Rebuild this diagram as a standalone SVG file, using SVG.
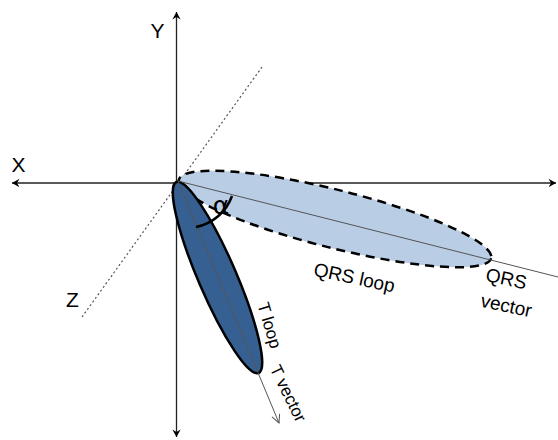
<svg xmlns="http://www.w3.org/2000/svg" width="558" height="440" viewBox="0 0 558 440">
<style>
.axis{stroke:#222;stroke-width:1.3;fill:none}
.lbl{font-family:"Liberation Sans",Arial,sans-serif;fill:#000}
.vec{stroke:#555;stroke-width:1;fill:none}
</style>
<defs>
<marker id="ah" viewBox="0 0 12 12" refX="10" refY="6" markerWidth="10" markerHeight="10" markerUnits="userSpaceOnUse" orient="auto-start-reverse">
<path d="M1,1 L10,6 L1,11 L4,6 Z" fill="#000"/>
</marker>
<marker id="va" viewBox="0 0 12 12" refX="11" refY="6" markerWidth="10" markerHeight="10" markerUnits="userSpaceOnUse" orient="auto">
<path d="M1,1 L11,6 L1,11" fill="none" stroke="#555" stroke-width="1.2"/>
</marker>
</defs>
<g id="connectors">
<line class="axis" x1="12" y1="183" x2="556" y2="183" marker-start="url(#ah)" marker-end="url(#ah)"/>
<line class="axis" x1="176.5" y1="12" x2="176.5" y2="437" marker-start="url(#ah)" marker-end="url(#ah)"/>
<line x1="262" y1="67" x2="82" y2="317" stroke="#555" stroke-width="1.2" stroke-dasharray="2,2.5"/>
</g>
<g id="qrs-loop">
<ellipse cx="335" cy="219" rx="161" ry="29" transform="rotate(14.1 335 219)" fill="#b9cde5" stroke="#000" stroke-width="2.5" stroke-dasharray="9,6"/>
</g>
<g id="t-loop">
<ellipse cx="217.5" cy="277.5" rx="104" ry="19" transform="rotate(66.7 217.5 277.5)" fill="#376092" stroke="#000" stroke-width="2.5"/>
</g>
<g id="qrs-vector">
<line class="vec" x1="178" y1="181" x2="558" y2="277"/>
</g>
<g id="t-vector">
<line class="vec" x1="178" y1="181" x2="279" y2="423" marker-end="url(#va)"/>
</g>
<g id="angle">
<path d="M232,196 A48,48 0 0 1 196,227" fill="none" stroke="#000" stroke-width="2.5"/>
<text x="221" y="214" font-size="25" font-family="'DejaVu Sans',sans-serif" text-anchor="middle">α</text>
</g>
<g id="labels">
<text class="lbl" x="157.5" y="38" font-size="21" text-anchor="middle">Y</text>
<text class="lbl" x="18.5" y="172" font-size="21" text-anchor="middle">X</text>
<text class="lbl" x="72.5" y="307" font-size="21" text-anchor="middle">Z</text>
<text class="lbl" font-size="19" transform="translate(353,284) rotate(12)" text-anchor="middle">QRS loop</text>
<text class="lbl" font-size="19" transform="translate(505,285) rotate(12)" text-anchor="middle">QRS</text>
<text class="lbl" font-size="19" transform="translate(505,312) rotate(12)" text-anchor="middle">vector</text>
<text class="lbl" font-size="17" transform="translate(264,327) rotate(73)" text-anchor="middle">T loop</text>
<text class="lbl" font-size="17" transform="translate(283,396) rotate(64)" text-anchor="middle">T vector</text>
</g>
</svg>
